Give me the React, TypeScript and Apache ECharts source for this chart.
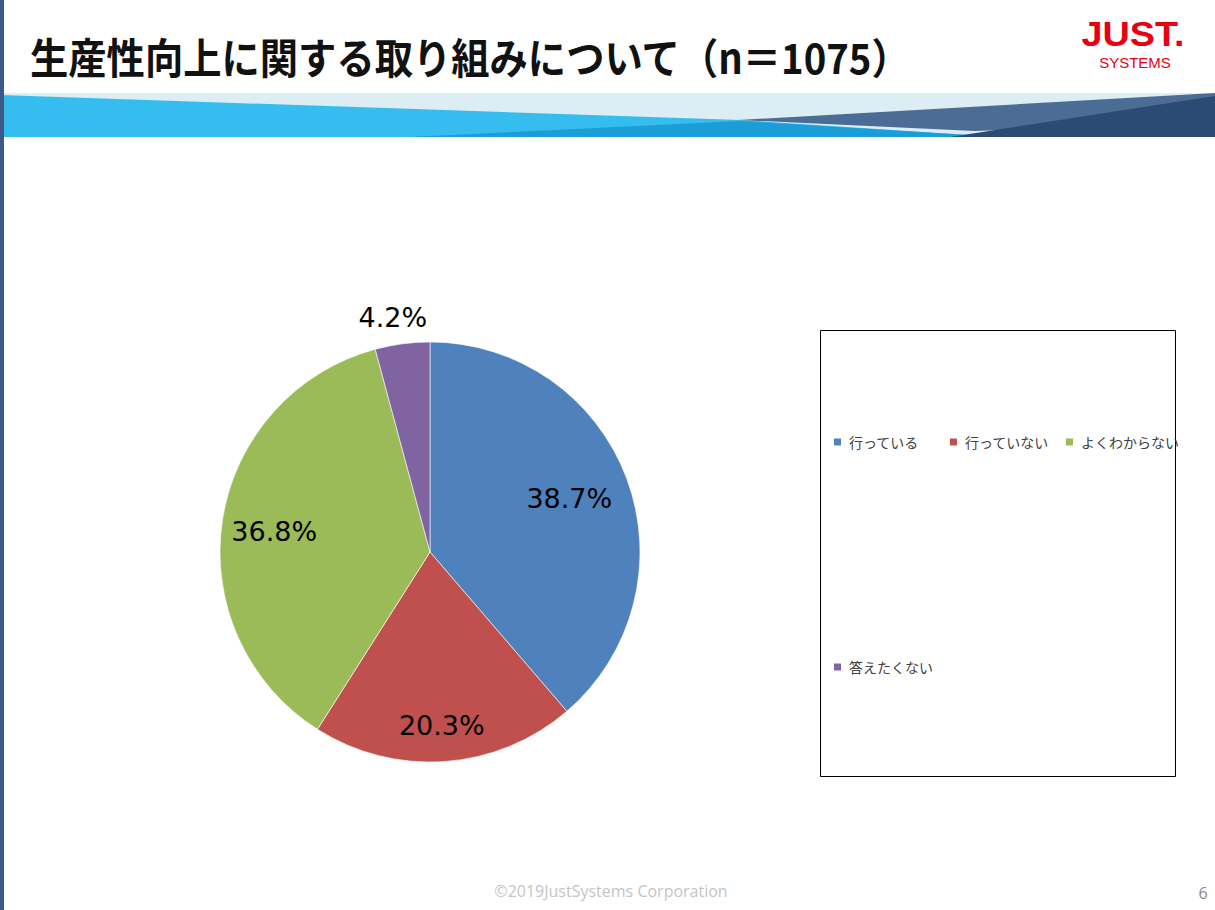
import React, { useEffect, useRef } from "react";
import * as echarts from "echarts";

const categories = ["行っている", "行っていない", "よくわからない", "答えたくない"];
const values = [38.7, 20.3, 36.8, 4.2];
const colors = ["#4f81bd", "#c0504d", "#9bbb59", "#8064a2"];
const titleText = "生産性向上に関する取り組みについて（n＝1075）";
const footerText = "©2019JustSystems Corporation";
const pageNumber = "6";

// label nudges (style only): move labels from the default inner position
const labelNudge = [
  [38, -16],
  [4, 66],
  [-49, -4],
  [-23, -127],
];
const legendPos = [
  [832, 435],
  [948, 435],
  [1064, 435],
  [832, 660],
];

export default function App() {
  const ref = useRef<HTMLDivElement>(null);
  useEffect(() => {
    const chart = echarts.init(ref.current!, null, { renderer: "svg" });
    const option: any = {
      animation: false,
      backgroundColor: "#ffffff",
      color: colors,
      graphic: [
        { type: "rect", shape: { x: 0, y: 93, width: 1215, height: 44 }, style: { fill: "#dcedf3" }, z: 1 },
        { type: "polygon", shape: { points: [[0, 95], [740, 120], [1000, 137], [0, 137]] }, style: { fill: "#34bdee" }, z: 2 },
        { type: "polygon", shape: { points: [[410, 137], [740, 121], [1000, 137]] }, style: { fill: "#1c9dd8" }, z: 3 },
        { type: "polygon", shape: { points: [[738, 120], [1215, 93], [1215, 122], [975, 131]] }, style: { fill: "#4b6d95" }, z: 4 },
        { type: "polygon", shape: { points: [[950, 137], [1215, 96], [1215, 137]] }, style: { fill: "#2b4a74" }, z: 5 },
        { type: "rect", shape: { x: 0, y: 0, width: 4, height: 910 }, style: { fill: "#3c5a88" }, z: 6 },
        {
          type: "text", x: 30, y: 56, z: 6, scaleX: 0.912,
          style: { text: titleText, fontSize: 42, fontWeight: "bold", fontFamily: "Noto Sans CJK JP", fill: "#111111", verticalAlign: "middle" },
        },
        {
          type: "text", x: 1133, y: 34, z: 6, scaleX: 1.08,
          style: { text: "JUST.", fontSize: 35, fontWeight: "bold", fontFamily: "Liberation Sans", fill: "#e60012", align: "center", verticalAlign: "middle" },
        },
        {
          type: "text", x: 1135, y: 62, z: 6,
          style: { text: "SYSTEMS", fontSize: 15, fontFamily: "Liberation Sans", fill: "#e60012", align: "center", verticalAlign: "middle" },
        },
        { type: "rect", shape: { x: 820.5, y: 330.5, width: 355, height: 446 }, style: { fill: "#ffffff", stroke: "#000000", lineWidth: 1 }, z: 1 },
        {
          type: "text", x: 611, y: 891, z: 6,
          style: { text: footerText, fontSize: 16, fontFamily: "Open Sans", fill: "#c4c4c4", align: "center", verticalAlign: "middle" },
        },
        {
          type: "text", x: 1203, y: 893, z: 6,
          style: { text: pageNumber, fontSize: 16, fontFamily: "Open Sans", fill: "#8a8a8a", align: "center", verticalAlign: "middle" },
        },
      ],
      legend: categories.map((name, i) => ({
        data: [name],
        left: legendPos[i][0],
        top: legendPos[i][1],
        orient: "horizontal",
        padding: 0,
        itemWidth: 9,
        itemHeight: 9,
        itemGap: 0,
        icon: "rect",
        z: 10,
        textStyle: { fontSize: 14, color: "#404040", fontFamily: "Noto Sans CJK JP", padding: [0, 0, 0, 2] },
      })),
      series: [
        {
          type: "pie",
          center: [430, 552],
          radius: [0, 210],
          startAngle: 90,
          clockwise: true,
          data: categories.map((name, i) => ({ name, value: values[i] })),
          itemStyle: { borderColor: "#ffffff", borderWidth: 0.6 },
          label: {
            show: true,
            position: "inside",
            formatter: (p: any) => p.value.toFixed(1) + "%",
            fontSize: 27,
            fontFamily: "DejaVu Sans",
            color: "#000000",
          },
          labelLine: { show: false },
          labelLayout: (p: any) => ({ dx: labelNudge[p.dataIndex][0], dy: labelNudge[p.dataIndex][1] }),
          emphasis: { disabled: true },
        },
      ],
    };
    chart.setOption(option);
    return () => chart.dispose();
  }, []);
  return <div ref={ref} style={{ position: "absolute", left: 0, top: 0, width: 1215, height: 910 }} />;
}
